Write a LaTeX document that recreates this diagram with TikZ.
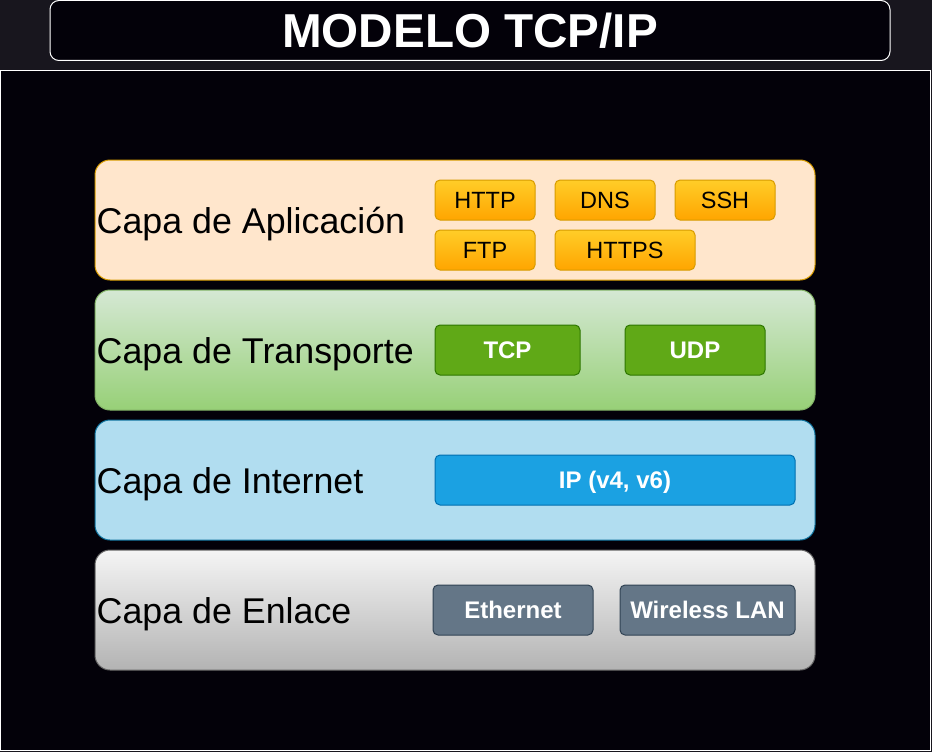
\documentclass[tikz,border=0pt]{standalone}
\usepackage{fontspec}
\setmainfont{Liberation Sans}
\definecolor{pagebg}{RGB}{24,22,30}
\definecolor{inner}{RGB}{3,1,9}
\definecolor{appfill}{HTML}{FFE6CC}
\definecolor{appstroke}{HTML}{D79B00}
\definecolor{trtop}{HTML}{D5E8D4}
\definecolor{trbot}{HTML}{97D077}
\definecolor{trstroke}{HTML}{82B366}
\definecolor{infill}{HTML}{B1DDF0}
\definecolor{instroke}{HTML}{10739E}
\definecolor{entop}{HTML}{F5F5F5}
\definecolor{enbot}{HTML}{B3B3B3}
\definecolor{enstroke}{HTML}{666666}
\definecolor{ortop}{HTML}{FFCD28}
\definecolor{orbot}{HTML}{FFA500}
\definecolor{grfill}{HTML}{60A917}
\definecolor{grstroke}{HTML}{2D7600}
\definecolor{blfill}{HTML}{1BA1E2}
\definecolor{blstroke}{HTML}{006EAF}
\definecolor{slfill}{HTML}{647687}
\definecolor{slstroke}{HTML}{314354}
\begin{document}
\begin{tikzpicture}[x=1pt,y=-1pt,
  layerbox/.style={draw, line width=1pt, rounded corners=15pt, minimum width=720pt, minimum height=120pt, inner sep=0pt},
  layerlabel/.style={anchor=base west, inner sep=0pt, font=\fontsize{35.8}{40}\selectfont, text=black},
  protobox/.style={draw, line width=1pt, rounded corners=5pt, minimum height=40pt, inner sep=0pt, text height=16.8pt, text depth=0pt, font=\fontsize{23.5}{26}\selectfont, text=black},
  orangebox/.style={protobox, top color=ortop, bottom color=orbot, draw=appstroke},
  solidbox/.style={draw, line width=1pt, rounded corners=5pt, minimum height=50pt, inner sep=0pt, text height=17.2pt, text depth=0pt, font=\bfseries\fontsize{24}{27}\selectfont, text=white},
]
\useasboundingbox (0,0) rectangle (932,752);
\fill[pagebg] (0,0) rectangle (932,752);
% main frame
\draw[white, fill=inner, line width=1pt] (0.5,70.5) rectangle (930.5,750.5);
% title
\node[draw=white, fill=inner, line width=1pt, rounded corners=9pt, minimum width=840pt, minimum height=60pt, inner sep=0pt,
  text height=34pt, text depth=0pt,
  text=white, font=\bfseries\fontsize{47.6}{50}\selectfont] (title) at (470,30.5) {MODELO TCP/IP};

% layers
\node[layerbox, fill=appfill, draw=appstroke] (app) at (455,220) {};
\node[layerbox, top color=trtop, bottom color=trbot, draw=trstroke] (tra) at (455,350) {};
\node[layerbox, fill=infill, draw=instroke] (int) at (455,480) {};
\node[layerbox, top color=entop, bottom color=enbot, draw=enstroke] (enl) at (455,610) {};

\node[layerlabel] (appl) at ([xshift=2pt,yshift=-13pt]app.west) {Capa de Aplicación};
\node[layerlabel] (tral) at ([xshift=2pt,yshift=-13pt]tra.west) {Capa de Transporte};
\node[layerlabel] (intl) at ([xshift=2pt,yshift=-13pt]int.west) {Capa de Internet};
\node[layerlabel] (enll) at ([xshift=2pt,yshift=-13pt]enl.west) {Capa de Enlace};

% application protocols
\node[orangebox, minimum width=100pt] (http) at (485,200) {HTTP};
\node[orangebox, minimum width=100pt] (dns) at (605,200) {DNS};
\node[orangebox, minimum width=100pt] (ssh) at (725,200) {SSH};
\node[orangebox, minimum width=100pt] (ftp) at (485,250) {FTP};
\node[orangebox, minimum width=140pt] (https) at (625,250) {HTTPS};

% transport
\node[solidbox, fill=grfill, draw=grstroke, minimum width=145pt] (tcp) at (507.5,350) {TCP};
\node[solidbox, fill=grfill, draw=grstroke, minimum width=140pt] (udp) at (695,350) {UDP};

% internet
\node[solidbox, fill=blfill, draw=blstroke, minimum width=360pt] (ip) at (615,480) {IP (v4, v6)};

% link
\node[solidbox, fill=slfill, draw=slstroke, minimum width=160pt] (eth) at (513,610) {Ethernet};
\node[solidbox, fill=slfill, draw=slstroke, minimum width=175pt] (wlan) at (707.5,610) {Wireless LAN};
\end{tikzpicture}
\end{document}
